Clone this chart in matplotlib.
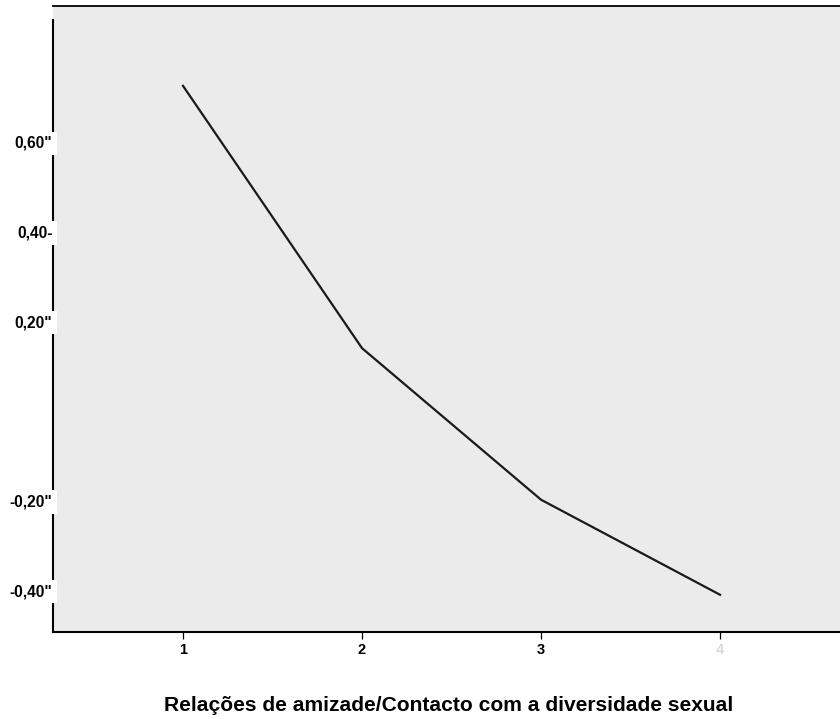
import matplotlib
matplotlib.use("Agg")
import matplotlib.pyplot as plt

# valores
categories = [1, 2, 3, 4]
means = [0.725, 0.140, -0.198, -0.410]
ytick_values = [0.6, 0.4, 0.2, -0.2, -0.4]
ytick_labels = ['0,60"', '0,40-', '0,20"', '-0,20"', '-0,40"']
xtick_labels = ["1", "2", "3", "4"]
xlabel = "Relações de amizade/Contacto com a diversidade sexual"

plt.rcParams['font.family'] = ['Liberation Sans', 'DejaVu Sans']

fig = plt.figure(figsize=(8.4, 7.19), dpi=100)
ax = fig.add_axes([53 / 840, 1 - 632 / 719, 1 - 53 / 840, 626 / 719])
ax.set_facecolor("#ebebeb")

ax.plot(categories, means, color="#1a1a1a", linewidth=1.6, solid_joinstyle="round")

ax.set_xlim(0.274, 4.67)
ax.set_ylim(-0.493, 0.903)

ax.spines['right'].set_visible(False)
ax.spines['top'].set_linewidth(1.3)
ax.spines['bottom'].set_linewidth(1.5)
ax.spines['left'].set_linewidth(1.5)
ax.spines['left'].set_bounds(-0.493, 0.872)
ax.spines['left'].set_zorder(1)

ax.set_xticks(categories)
ax.set_xticklabels(xtick_labels, fontsize=10.5, fontweight="bold")
ax.get_xticklabels()[3].set_color("#d9d9d9")
ax.tick_params(axis='x', length=5, width=0.9, pad=3)

ax.set_yticks(ytick_values)
ax.set_yticklabels(ytick_labels, fontsize=11.2, fontweight="bold")
ax.tick_params(axis='y', length=0, pad=0.5)
for lab in ax.get_yticklabels():
    lab.set_bbox(dict(facecolor="white", edgecolor="none", pad=3))
    lab.set_zorder(5)

ax.set_xlabel(xlabel, fontsize=15.1, fontweight="bold", va="center")
ax.xaxis.set_label_coords(0.503, -0.118)

fig.savefig("out.png", dpi=100)
